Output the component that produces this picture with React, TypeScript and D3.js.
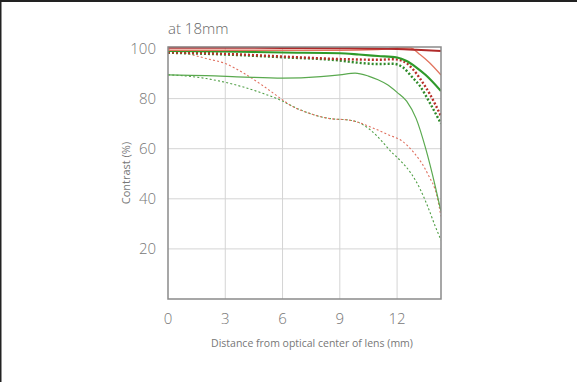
import React from "react";
import * as d3 from "d3";

const title = "at 18mm";
const xTicks = [0, 3, 6, 9, 12];
const yTicks = [20, 40, 60, 80, 100];
const xLabel = "Distance from optical center of lens (mm)";
const yLabel = "Contrast (%)";

// [distance mm, contrast %]
const redThickSolid: [number, number][] = [[0, 100.3], [3, 100.3], [6, 100.2], [9, 100.1], [12, 99.8], [13, 99.5], [14.3, 99]];
const redThinSolid: [number, number][] = [[0, 99.3], [3, 99.3], [6, 99.3], [9, 99.3], [11, 99.6], [12, 100.2], [12.7, 100.2], [13.2, 97.6], [13.7, 94.3], [14.3, 89.4]];
const greenThickSolid: [number, number][] = [[0, 99], [3, 98.8], [6, 98.4], [9, 98.1], [10, 97.6], [11, 97], [12, 96.4], [12.5, 95], [13, 92.5], [13.5, 89.4], [14.3, 83]];
const redThickDotted: [number, number][] = [[0, 98.5], [3, 97.9], [6, 96.8], [9, 95.8], [10, 95.6], [11, 95.5], [11.8, 95.7], [12.3, 95], [12.8, 92], [13.2, 88], [13.7, 82], [14.3, 73]];
const greenThickDotted: [number, number][] = [[0, 98.3], [3, 97.6], [6, 96.5], [9, 95.2], [10, 94.3], [11, 93.8], [11.8, 93.9], [12.3, 92.5], [12.8, 88.5], [13.2, 85], [13.7, 78.5], [14.3, 70]];
const greenThinSolid: [number, number][] = [[0, 89.5], [2, 89.2], [4, 88.6], [6, 88.2], [8, 88.8], [9, 89.5], [9.8, 90.2], [10.5, 89], [11, 87.5], [11.5, 85.5], [12, 82.5], [12.5, 79], [13, 72], [13.5, 60], [14, 45], [14.3, 35]];
const redThinDashed: [number, number][] = [[0, 99.5], [1, 98], [2, 96], [3, 94], [4, 90], [5, 85], [6, 79.5], [6.4, 77.4], [7.45, 74], [8.5, 72], [9.5, 71.4], [9.9, 70.7], [10.6, 68.7], [11.6, 65.4], [12.2, 63.4], [12.85, 58.7], [13.6, 50], [14.1, 40.7], [14.3, 33]];
const greenThinDashed: [number, number][] = [[0, 89.5], [1, 89], [2, 88], [3, 86.5], [4, 84.5], [5, 82], [6, 79], [6.4, 77.4], [7.45, 74], [8.5, 72], [9.5, 71.4], [9.9, 70.7], [10.6, 67.5], [11.2, 63], [11.6, 59.5], [12.2, 55], [12.7, 50.5], [13.2, 44], [13.6, 37], [14.0, 29], [14.3, 23.5]];

const W = 577;
const H = 382;
const left = 168, right = 441, top = 47, bottom = 299;

export default function App() {
  const x = d3.scaleLinear().domain([0, 14.3]).range([left, right]);
  const y = d3.scaleLinear().domain([0, 100.6]).range([bottom, top]);
  const line = d3
    .line<[number, number]>()
    .x((d) => x(d[0]))
    .y((d) => y(d[1]))
    .curve(d3.curveMonotoneX);

  const series = [
    { data: greenThinDashed, color: "#4f9e45", width: 1.1, dash: "2,2.2" },
    { data: redThinDashed, color: "#e0705f", width: 1.1, dash: "2,2.2" },
    { data: greenThinSolid, color: "#5aa94f", width: 1.2, dash: null },
    { data: greenThickDotted, color: "#2f8a2a", width: 2.4, dash: "2,2" },
    { data: redThickDotted, color: "#b8302a", width: 2.4, dash: "2,2" },
    { data: greenThickSolid, color: "#2f9a2a", width: 2.2, dash: null },
    { data: redThinSolid, color: "#e2745e", width: 1.3, dash: null },
    { data: redThickSolid, color: "#b02a2a", width: 2, dash: null },
  ];

  const font = "'Open Sans', 'Noto Sans', sans-serif";

  return (
    <svg
      width={W}
      height={H}
      style={{ position: "absolute", left: 0, top: 0, background: "#fff" }}
    >
      <rect x={0} y={0} width={W} height={H} fill="#fff" />
      <line x1={0} x2={W} y1={1} y2={1} stroke="#222" strokeWidth={2} />
      <line x1={0.75} x2={0.75} y1={0} y2={H} stroke="#222" strokeWidth={1.5} />

      <text x={left} y={34} fontFamily={font} fontSize={15} fill="#666" fontWeight={300}>
        {title}
      </text>

      {xTicks.filter((t) => t > 0).map((t) => (
        <line key={"gx" + t} x1={x(t)} x2={x(t)} y1={top} y2={bottom} stroke="#d4d4d4" strokeWidth={1} />
      ))}
      {yTicks.filter((t) => t < 100).map((t) => (
        <line key={"gy" + t} x1={left} x2={right} y1={y(t)} y2={y(t)} stroke="#d4d4d4" strokeWidth={1} />
      ))}

      <defs>
        <clipPath id="plotclip">
          <rect x={left} y={top - 2} width={right - left} height={bottom - top + 2} />
        </clipPath>
      </defs>
      <g clipPath="url(#plotclip)">
        {series.map((s, i) => (
          <path
            key={i}
            d={line(s.data) || ""}
            fill="none"
            stroke={s.color}
            strokeWidth={s.width}
            strokeDasharray={s.dash || undefined}
          />
        ))}
      </g>

      <rect x={left} y={top} width={right - left} height={bottom - top} fill="none" stroke="#8a8a8a" strokeWidth={1.5} />

      {yTicks.map((t) => (
        <text key={"ty" + t} x={156} y={y(t) + 5.5} textAnchor="end" fontFamily={font} fontSize={15} fill="#777" fontWeight={300}>
          {t}
        </text>
      ))}
      {xTicks.map((t) => (
        <text key={"tx" + t} x={x(t)} y={324} textAnchor="middle" fontFamily={font} fontSize={15} fill="#777" fontWeight={300}>
          {t}
        </text>
      ))}
      <text x={312} y={347} textAnchor="middle" fontFamily={font} fontSize={10.5} fill="#777">
        {xLabel}
      </text>
      <text
        transform={`translate(130, ${(top + bottom) / 2}) rotate(-90)`}
        textAnchor="middle"
        fontFamily={font}
        fontSize={11}
        fill="#777"
      >
        {yLabel}
      </text>
    </svg>
  );
}
